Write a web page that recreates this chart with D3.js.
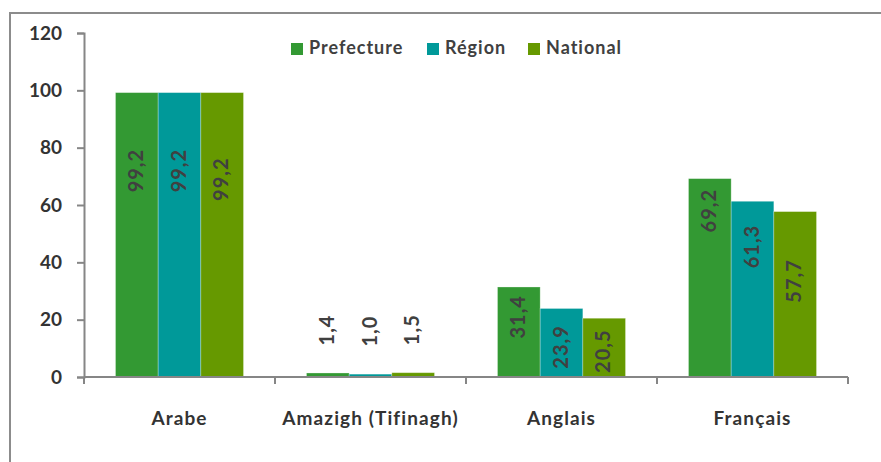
<!DOCTYPE html>
<html>
<head>
<meta charset="utf-8">
<script src="https://cdn.jsdelivr.net/npm/d3@7"></script>
<style>
  body { margin: 0; background: #fff; }
  svg { display: block; font-family: Lato, 'Open Sans', sans-serif; }
</style>
</head>
<body>
<svg id="chart" width="881" height="462"></svg>
<script>
// Données
const categories = ['Arabe', 'Amazigh (Tifinagh)', 'Anglais', 'Français']
const series = ['Prefecture', 'Région', 'National']
const prefecture = [99.2, 1.4, 31.4, 69.2]
const region = [99.2, 1.0, 23.9, 61.3]
const national = [99.2, 1.5, 20.5, 57.7]
const yTicks = [0, 20, 40, 60, 80, 100, 120]
// milieu des étiquettes (en unités de l'axe), placées à la main dans l'original
const labelMid = [
    [72, 1.4 + 15, 21, 58],
    [72, 1.0 + 15, 10.5, 45.5],
    [69, 1.5 + 15, 9, 33.5]
]

const COULEURS = ['#339933', '#009999', '#669900']
const GRIS_AXE = '#868686'
const TEXTE = '#404040'

const svg = d3.select('#chart')

const valeurs = [prefecture, region, national]

// Cadre (seuls les bords gauche et haut sont visibles)
svg.append('path').attr('d', 'M10,462V13H881').attr('fill', 'none').attr('stroke', '#8c8c8c').attr('stroke-width', 2)

const x = d3.scaleBand().domain(categories).range([84, 848]).padding(0)
const xs = d3.scaleBand().domain(series).range([31.5, x.bandwidth() - 31.5]).padding(0)
const y = d3.scaleLinear().domain([0, 120]).range([377, 33])

//Axe Y
const axeY = svg.append('g').attr('transform', 'translate(84,0)')
    .call(d3.axisLeft(y).tickValues(yTicks).tickSize(7).tickPadding(15).tickFormat(d3.format('d')))
axeY.select('.domain').attr('stroke', GRIS_AXE).attr('stroke-width', 2)
axeY.selectAll('.tick line').attr('stroke', GRIS_AXE).attr('stroke-width', 2)
axeY.selectAll('.tick text').attr('fill', '#333').style('font-size', '19px').style('font-weight', 'bold')
    .attr('font-family', 'Lato, sans-serif')

//Barres
series.forEach((s, i) => {
    svg.append('g').attr('class', 'serie' + i).selectAll('rect')
        .data(valeurs[i]).join('rect')
        .attr('x', (d, j) => x(categories[j]) + xs(s))
        .attr('width', xs.bandwidth())
        .attr('y', d => y(d))
        .attr('height', d => y(0) - y(d))
        .attr('fill', COULEURS[i])
        .attr('stroke', 'rgba(255,255,255,0.35)').attr('stroke-width', 0.8)
})

//Axe X
const axeX = svg.append('g').attr('transform', 'translate(0,377)')
axeX.append('line').attr('x1', 84).attr('x2', 848).attr('stroke', GRIS_AXE).attr('stroke-width', 2)
const bornes = categories.map(c => x(c)).concat([x.range()[1]])
axeX.selectAll('.borne').data(bornes).join('line').attr('class', 'borne')
    .attr('x1', d => d).attr('x2', d => d).attr('y1', 0).attr('y2', 7)
    .attr('stroke', GRIS_AXE).attr('stroke-width', 2)
axeX.selectAll('.cat').data(categories).join('text').attr('class', 'cat')
    .attr('x', d => x(d) + x.bandwidth() / 2).attr('y', 48)
    .attr('text-anchor', 'middle').attr('fill', '#333')
    .style('font-size', '19px').style('font-weight', 'bold').style('letter-spacing', '1.1px')
    .text(d => d)

//Etiquettes des valeurs (verticales)
series.forEach((s, i) => {
    svg.append('g').selectAll('text')
        .data(valeurs[i]).join('text')
        .attr('transform', (d, j) => 'translate(' + (x(categories[j]) + xs(s) + xs.bandwidth() / 2 + 1) + ',' + y(labelMid[i][j]) + ')rotate(-90)')
        .attr('text-anchor', 'middle').attr('dominant-baseline', 'middle')
        .attr('fill', TEXTE).style('font-size', '20px').style('font-weight', 'bold').style('letter-spacing', '1px')
        .text(d => d3.format('.1f')(d).replace('.', ','))
})

//Légende
const legende = svg.append('g').attr('class', 'legende')
const legX = [291, 427, 528]
series.forEach((s, i) => {
    const g = legende.append('g').attr('transform', 'translate(' + legX[i] + ',43)')
    g.append('rect').attr('width', 12).attr('height', 12).attr('fill', COULEURS[i])
    g.append('text').attr('x', 18).attr('y', 6.5).attr('dominant-baseline', 'middle')
        .attr('fill', TEXTE).style('font-size', '18px').style('font-weight', 'bold').style('letter-spacing', '1px')
        .text(s)
})
</script>
</body>
</html>
